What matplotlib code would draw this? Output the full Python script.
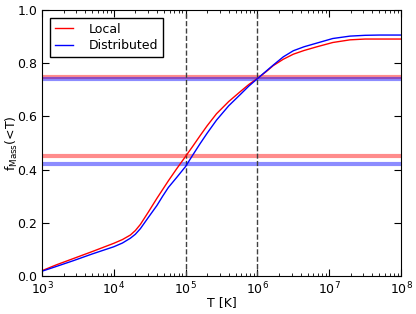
import numpy as np
import matplotlib
matplotlib.use("Agg")
import matplotlib.pyplot as plt

# cumulative mass fraction below temperature T
log_T = [3.0, 3.2, 3.44, 3.7, 4.0, 4.12, 4.23, 4.3, 4.37, 4.48, 4.6, 4.68, 4.76, 4.88,
         5.0, 5.1, 5.2, 5.3, 5.43, 5.6, 5.76, 5.88, 6.0, 6.12, 6.22, 6.36, 6.5, 6.65,
         6.83, 7.05, 7.29, 7.5, 7.7, 8.0]
local = [0.020, 0.042, 0.066, 0.092, 0.123, 0.137, 0.154, 0.171, 0.194, 0.240, 0.292,
         0.325, 0.358, 0.405, 0.450, 0.488, 0.527, 0.565, 0.610, 0.656, 0.693, 0.720,
         0.743, 0.768, 0.791, 0.815, 0.834, 0.848, 0.862, 0.878, 0.888, 0.891, 0.891, 0.891]
distributed = [0.018, 0.036, 0.058, 0.083, 0.110, 0.124, 0.142, 0.157, 0.178, 0.220,
               0.265, 0.300, 0.333, 0.372, 0.412, 0.455, 0.497, 0.537, 0.586, 0.640,
               0.682, 0.714, 0.742, 0.770, 0.793, 0.824, 0.847, 0.862, 0.876, 0.893,
               0.902, 0.905, 0.906, 0.906]
T = 10.0 ** np.array(log_T)

hlines_local = [0.453, 0.747]
hlines_dist = [0.423, 0.741]
vlines = [1e5, 1e6]

fig = plt.figure(figsize=(4.16, 3.14), dpi=100)
ax = fig.add_axes([0.101, 0.121, 0.863, 0.847])

for y in hlines_local:
    ax.axhline(y, color="red", lw=3, alpha=0.45)
for y in hlines_dist:
    ax.axhline(y, color="blue", lw=3, alpha=0.45)
for x in vlines:
    ax.axvline(x, color="0.25", ls="--", lw=1)

ax.plot(T, local, color="red", lw=1, label="Local")
ax.plot(T, distributed, color="blue", lw=1, label="Distributed")

ax.set_xscale("log")
ax.set_xlim(1e3, 1e8)
ax.set_ylim(0, 1)
ax.set_yticks(np.arange(0, 1.01, 0.2))
ax.set_yticklabels(["0.0", "0.2", "0.4", "0.6", "0.8", "1.0"])
ax.tick_params(which="both", direction="in", top=True, right=True, labelsize=9)
ax.tick_params(which="major", length=5)
ax.tick_params(which="minor", length=2.5)
ax.set_xlabel("T [K]", fontsize=9, labelpad=-1)
ax.set_ylabel(r"f$_{\rm Mass}$(<T)", fontsize=9, labelpad=-2)

leg = ax.legend(loc="upper left", fontsize=9, fancybox=False, framealpha=1,
                edgecolor="black", handlelength=1.5, handletextpad=1.2,
                borderpad=0.4, labelspacing=0.3, borderaxespad=0.6)
leg.get_frame().set_linewidth(1)

fig.savefig("out.png", dpi=100)
